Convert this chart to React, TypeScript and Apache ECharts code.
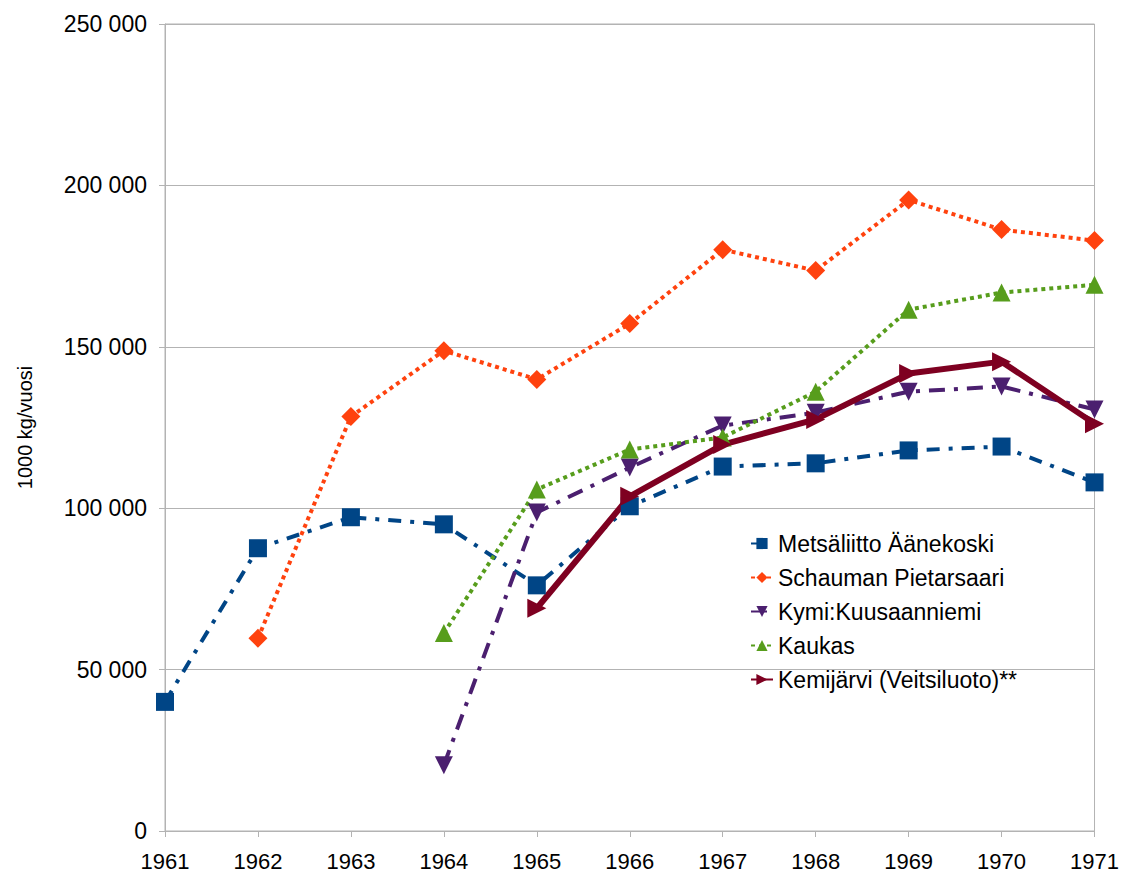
import React, { useEffect, useRef } from "react";
import * as echarts from "echarts";

const years = ["1961", "1962", "1963", "1964", "1965", "1966", "1967", "1968", "1969", "1970", "1971"];
const metsaliitto = [40000, 87600, 97200, 95000, 76100, 100600, 112900, 113900, 117900, 119100, 108000];
const schauman = [null, 59700, 128400, 148800, 139900, 157200, 180100, 173600, 195500, 186300, 182900];
const kymi = [null, null, null, 20400, 98700, 112600, 125600, 129600, 136100, 137700, 130600];
const kaukas = [null, null, null, 61300, 105800, 118200, 121900, 136100, 161500, 166800, 169200];
const kemijarvi = [null, null, null, null, 69000, 103700, 119700, 127500, 141700, 145400, 126200];

const FONT = "Liberation Sans, Arial, sans-serif";

export default function App() {
  const ref = useRef<HTMLDivElement>(null);
  useEffect(() => {
    if (!ref.current) return;
    const chart = echarts.init(ref.current, null, { renderer: "svg" });
    const fmt = (v: number) => String(v).replace(/\B(?=(\d{3})+(?!\d))/g, " ");
    chart.setOption({
      animation: false,
      backgroundColor: "#ffffff",
      grid: {
        left: 165,
        right: 25,
        top: 24,
        bottom: 40,
        show: true,
        borderColor: "#b3b3b3",
        borderWidth: 1,
      },
      legend: {
        orient: "vertical",
        left: 745,
        top: 527,
        itemGap: 11,
        itemWidth: 22,
        itemHeight: 14,
        textStyle: { fontFamily: FONT, fontSize: 23, color: "#000" },
        data: [
          "Metsäliitto Äänekoski",
          "Schauman Pietarsaari",
          "Kymi:Kuusaanniemi",
          "Kaukas",
          "Kemijärvi (Veitsiluoto)**",
        ],
      },
      xAxis: {
        type: "category",
        data: years,
        boundaryGap: false,
        axisLine: { lineStyle: { color: "#b3b3b3" } },
        axisTick: { show: true, length: 6, lineStyle: { color: "#b3b3b3" } },
        axisLabel: { fontFamily: FONT, fontSize: 22, color: "#000", margin: 19, interval: 0 },
        splitLine: { show: false },
      },
      yAxis: {
        type: "value",
        min: 0,
        max: 250000,
        interval: 50000,
        name: "1000 kg/vuosi",
        nameLocation: "middle",
        nameGap: 130,
        nameRotate: 90,
        nameTextStyle: { fontFamily: FONT, fontSize: 20, color: "#000" },
        axisLine: { show: true, lineStyle: { color: "#b3b3b3" } },
        axisTick: { show: true, length: 6, lineStyle: { color: "#b3b3b3" } },
        axisLabel: {
          fontFamily: FONT,
          fontSize: 23,
          color: "#000",
          margin: 18,
          formatter: (v: number) => fmt(v),
        },
        splitLine: { show: true, lineStyle: { color: "#b3b3b3", width: 1 } },
      },
      series: [
        {
          name: "Metsäliitto Äänekoski",
          type: "line",
          data: metsaliitto,
          color: "#004586",
          symbol: "rect",
          symbolSize: 18,
          lineStyle: { width: 4, type: [13, 9, 4, 9] },
          itemStyle: { color: "#004586" },
        },
        {
          name: "Schauman Pietarsaari",
          type: "line",
          data: schauman,
          color: "#ff420e",
          symbol: "diamond",
          symbolSize: [19, 19],
          lineStyle: { width: 4, type: [4, 4] },
          itemStyle: { color: "#ff420e" },
        },
        {
          name: "Kymi:Kuusaanniemi",
          type: "line",
          data: kymi,
          color: "#4b1f6f",
          symbol: "triangle",
          symbolRotate: 180,
          symbolSize: 18,
          lineStyle: { width: 4, type: [16, 9, 4, 9] },
          itemStyle: { color: "#4b1f6f" },
        },
        {
          name: "Kaukas",
          type: "line",
          data: kaukas,
          color: "#579d1c",
          symbol: "triangle",
          symbolSize: 18,
          lineStyle: { width: 4, type: [4, 4] },
          itemStyle: { color: "#579d1c" },
        },
        {
          name: "Kemijärvi (Veitsiluoto)**",
          type: "line",
          data: kemijarvi,
          color: "#7e0021",
          symbol: "triangle",
          symbolRotate: -90,
          symbolSize: 19,
          lineStyle: { width: 6, type: "solid" },
          itemStyle: { color: "#7e0021" },
        },
      ],
    });
    return () => chart.dispose();
  }, []);
  return <div ref={ref} style={{ width: 1122, height: 872, position: "absolute", left: 0, top: 0 }} />;
}
